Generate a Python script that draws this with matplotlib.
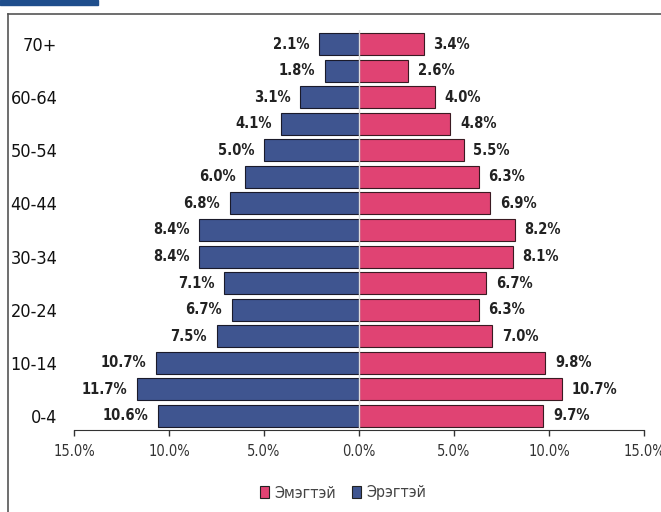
import matplotlib.pyplot as plt
from matplotlib.patches import Rectangle
from matplotlib.lines import Line2D

# age groups, bottom to top
ages = ["0-4", "5-9", "10-14", "15-19", "20-24", "25-29", "30-34", "35-39",
        "40-44", "45-49", "50-54", "55-59", "60-64", "65-69", "70+"]
male = [10.6, 11.7, 10.7, 7.5, 6.7, 7.1, 8.4, 8.4, 6.8, 6.0, 5.0, 4.1, 3.1, 1.8, 2.1]
female = [9.7, 10.7, 9.8, 7.0, 6.3, 6.7, 8.1, 8.2, 6.9, 6.3, 5.5, 4.8, 4.0, 2.6, 3.4]
xticks = [-15, -10, -5, 0, 5, 10, 15]

c_male = "#3F5590"
c_female = "#E04373"
txt = dict(family="DejaVu Sans", fontstretch="condensed")

fig = plt.figure(figsize=(6.61, 5.12), dpi=100)
ax = fig.add_axes([74/661, 1 - 430/512, 570/661, 400/512])

y = list(range(len(ages)))
ax.barh(y, [-m for m in male], height=0.83, color=c_male, edgecolor="#1a1a2a", linewidth=0.8)
ax.barh(y, female, height=0.83, color=c_female, edgecolor="#3a1a22", linewidth=0.8)
ax.axvline(0, color="#dddddd", linewidth=1.0, zorder=3)

for i in y:
    ax.annotate(f"{male[i]:.1f}%", (-male[i], i), xytext=(-7, 0), textcoords="offset points",
                ha="right", va="center", fontsize=10.5, fontweight="bold", color="#222222", **txt)
    ax.annotate(f"{female[i]:.1f}%", (female[i], i), xytext=(7, 0), textcoords="offset points",
                ha="left", va="center", fontsize=10.5, fontweight="bold", color="#222222", **txt)

ax.set_xlim(-15, 15)
ax.set_ylim(-0.53, len(ages) - 0.47)
ax.set_xticks(xticks)
ax.set_xticklabels([f"{abs(v):.1f}%" for v in xticks], fontsize=10.5, color="#333333", **txt)
ax.set_yticks(y[::2])
ax.set_yticklabels(ages[::2], fontsize=13, color="#111111", **txt)
ax.tick_params(axis="y", length=0, pad=12)
ax.tick_params(axis="x", length=4, width=1, color="#333333", pad=6)
for s in ["top", "right", "left"]:
    ax.spines[s].set_visible(False)
ax.spines["bottom"].set_color("#333333")

# legend
handles = [Rectangle((0, 0), 1, 1, facecolor=c_female, edgecolor="#222222", linewidth=0.8),
           Rectangle((0, 0), 1, 1, facecolor=c_male, edgecolor="#222222", linewidth=0.8)]
fig.legend(handles, ["Эмэгтэй", "Эрэгтэй"], loc="center", bbox_to_anchor=(343/661, 1 - 493/512),
           ncol=2, frameon=False, prop={"family": "DejaVu Sans", "stretch": "condensed", "size": 11.5},
           labelcolor="#444444", handlelength=0.6, handleheight=0.8, handletextpad=0.3,
           columnspacing=1.0)

# outer frame and top-left accent
fig.add_artist(Line2D([8/661, 8/661], [0, 1 - 14/512], color="#555555", linewidth=1.2))
fig.add_artist(Line2D([8/661, 1], [1 - 14/512, 1 - 14/512], color="#555555", linewidth=1.2))
fig.add_artist(Rectangle((0, 1 - 5/512), 98/661, 5/512, color="#1F4E8C", transform=fig.transFigure))

fig.savefig("out.png", dpi=100)
